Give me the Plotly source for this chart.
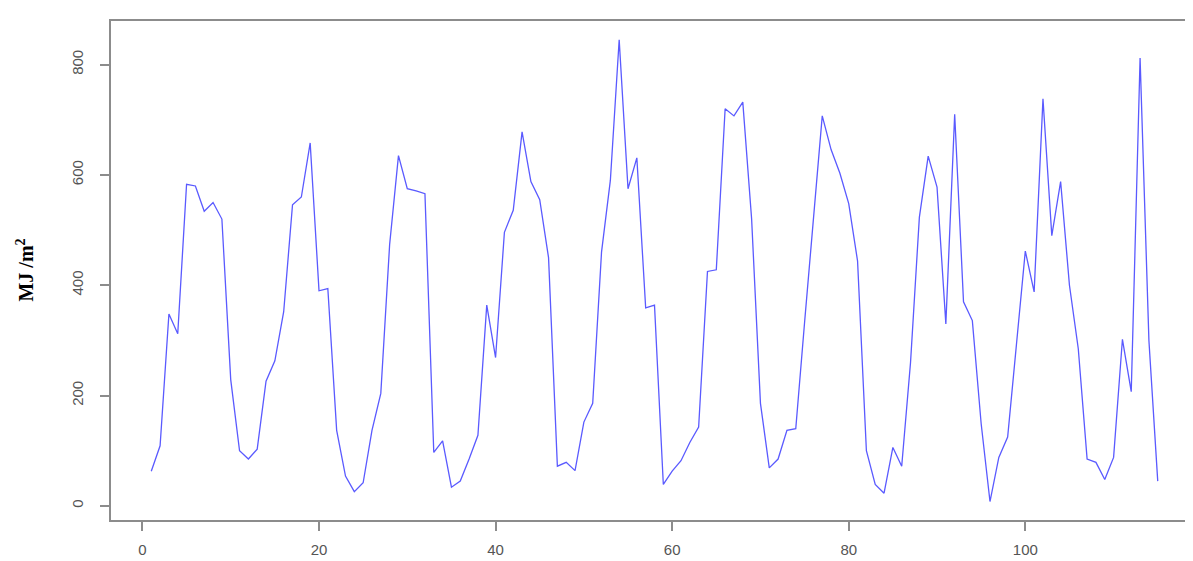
import plotly.graph_objects as go

months = list(range(1, 116))
radiation = [
    63, 109, 348, 312, 583, 580, 534, 550, 520, 229,
    100, 85, 103, 226, 263, 352, 546, 560, 658, 390,
    394, 137, 54, 26, 42, 137, 204, 474, 635, 575,
    571, 566, 97, 118, 34, 45, 85, 128, 364, 269,
    496, 536, 678, 588, 555, 450, 72, 79, 64, 152,
    186, 460, 590, 845, 575, 631, 359, 364, 39, 63,
    82, 115, 143, 425, 428, 720, 707, 732, 520, 186,
    69, 85, 137, 140, 333, 523, 707, 646, 603, 548,
    444, 100, 39, 23, 106, 72, 260, 523, 634, 578,
    330, 710, 370, 336, 149, 8, 88, 125, 290, 462,
    388, 738, 490, 588, 400, 285, 85, 79, 48, 88,
    302, 207, 812, 300, 45,
]
x_ticks = [0, 20, 40, 60, 80, 100]
y_ticks = [0, 200, 400, 600, 800]
y_title = "MJ /m<sup>2</sup>"

fig = go.Figure()
fig.add_trace(go.Scatter(
    x=months, y=radiation, mode="lines",
    line=dict(color="#5a5aff", width=1.3),
    showlegend=False,
))

axis_common = dict(
    showgrid=False, zeroline=False, automargin=False,
    showline=True, linecolor="#8c8c8c", linewidth=2, mirror=True,
    ticks="outside", ticklen=9, tickwidth=2, tickcolor="#8c8c8c",
)
tick_font = dict(family="Liberation Sans, Arial, sans-serif", size=15, color="#555555")

fig.update_layout(
    width=1193, height=561,
    margin=dict(l=103, r=3, t=13, b=49, autoexpand=False),
    paper_bgcolor="white", plot_bgcolor="white",
    xaxis=dict(range=[-3.56, 119.56], tickvals=x_ticks, ticklabelstandoff=6,
               tickfont=tick_font, **axis_common),
    yaxis=dict(range=[-25.5, 879], tickvals=y_ticks, tickangle=-90, ticklabelstandoff=11,
               tickfont=tick_font, **axis_common),
    annotations=[dict(
        text=y_title, xref="paper", yref="paper",
        x=-0.080, y=0.5, xanchor="center", yanchor="middle",
        textangle=-90, showarrow=False,
        font=dict(family="Liberation Serif, Times New Roman, serif", size=20, color="black", weight="bold"),
    )],
)

fig.write_html("out.html")
